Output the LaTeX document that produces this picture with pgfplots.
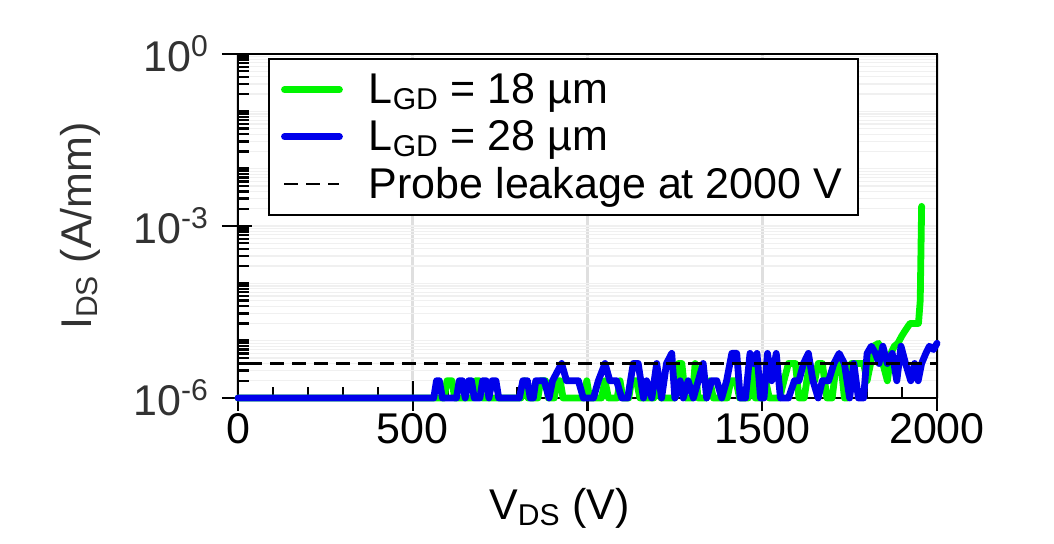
\documentclass[border=0pt]{standalone}
\usepackage{fontspec}
\setmainfont{Liberation Sans}
\usepackage{pgfplots}
\pgfplotsset{compat=1.18}
\definecolor{cgreen}{RGB}{0,245,0}
\definecolor{cblue}{RGB}{0,0,235}
\definecolor{dgray}{RGB}{50,50,50}
\begin{document}
\begin{tikzpicture}
\path[use as bounding box] (-119pt,-73pt) rectangle (408pt,199pt);
\begin{axis}[
  scale only axis,
  width=349.5pt, height=172pt,
  at={(0,0)}, anchor=south west,
  xmin=0, xmax=2000,
  ymode=log, ymin=1e-6, ymax=1,
  clip=false,
  font=\fontsize{21.5}{25}\selectfont,
  axis line style={line width=1.3pt},
  tick pos=left,
  tick align=inside,
  major tick length=15pt,
  minor tick length=5.5pt,
  every tick/.style={black, line width=1.2pt},
  major x tick style={yshift=-6.5pt},
  major y tick style={xshift=-8pt},
  xtick={0,500,1000,1500,2000},
  xticklabels={0,500,1000,1500,2000},
  minor xtick={100,200,300,400,600,700,800,900,1100,1200,1300,1400,1600,1700,1800,1900},
  ytick={1e-6,1e-3,1},
  yticklabels={10\textsuperscript{-6},10\textsuperscript{-3},10\textsuperscript{0}},
  minor ytick={2e-6,3e-6,4e-6,5e-6,6e-6,7e-6,8e-6,9e-6,1e-5,
               2e-5,3e-5,4e-5,5e-5,6e-5,7e-5,8e-5,9e-5,1e-4,
               2e-4,3e-4,4e-4,5e-4,6e-4,7e-4,8e-4,9e-4,
               2e-3,3e-3,4e-3,5e-3,6e-3,7e-3,8e-3,9e-3,1e-2,
               2e-2,3e-2,4e-2,5e-2,6e-2,7e-2,8e-2,9e-2,1e-1,
               2e-1,3e-1,4e-1,5e-1,6e-1,7e-1,8e-1,9e-1},
  xmajorgrids, ymajorgrids, yminorgrids,
  x grid style={gray!25, line width=1.5pt},
  y grid style={gray!12, line width=0.6pt},
  minor y grid style={gray!12, line width=0.6pt},
  xticklabel style={black, yshift=-4pt},
  yticklabel style={dgray, xshift=-11pt},
  xlabel={V\textsubscript{DS} (V)},
  ylabel={I\textsubscript{DS} (A/mm)},
  every axis x label/.style={at={(axis description cs:0.46,0)}, anchor=center, yshift=-55pt, black},
  every axis y label/.style={at={(axis description cs:0,0.5)}, anchor=center, rotate=90, yshift=79pt, dgray},
  legend cell align=left,
  legend style={at={(axis description cs:0.043,0.988)}, anchor=north west,
    draw=black, line width=1pt, fill=white,
    inner xsep=6pt, inner ysep=5pt, row sep=3pt, column sep=11pt,
    font=\fontsize{21.5}{25}\selectfont, text=black},
  legend image code/.code={\draw[#1] (2pt,0pt) -- (29.5pt,0pt);},
]
\addplot[cgreen, line width=3.4pt, line join=round, line cap=round] coordinates {
(0,1e-6) (590,1e-6) (598,2e-6) (612,2e-6) (620,1e-6) (672,1e-6) (680,2e-6) (690,2e-6) (698,1e-6)
(810,1e-6) (820,2e-6) (830,1e-6) (858,1e-6) (866,2e-6) (880,2e-6) (888,1e-6) (905,1e-6) (912,2e-6)
(922,2e-6) (930,1e-6) (990,1e-6) (998,2e-6) (1006,1e-6) (1040,1e-6) (1050,2e-6) (1060,1e-6)
(1085,1e-6) (1093,2e-6) (1101,1e-6) (1118,1e-6) (1126,2e-6) (1140,2e-6) (1150,1e-6) (1190,1e-6)
(1200,2e-6) (1210,1e-6) (1250,1e-6) (1260,4e-6) (1270,4e-6) (1280,1e-6) (1300,1e-6) (1308,4e-6)
(1316,1e-6) (1340,1e-6) (1350,2e-6) (1360,1e-6) (1400,1e-6) (1410,2e-6) (1425,2e-6) (1435,1e-6)
(1460,1e-6) (1470,4e-6) (1480,1e-6) (1500,1e-6) (1510,2e-6) (1520,1e-6) (1550,1e-6) (1562,2e-6)
(1575,4e-6) (1595,4e-6) (1605,1e-6) (1620,1e-6) (1635,4e-6) (1650,2e-6) (1660,4e-6) (1672,4e-6)
(1685,1e-6) (1700,1e-6) (1712,4e-6) (1725,4e-6) (1735,1e-6) (1745,1e-6) (1755,4e-6) (1790,4e-6)
(1800,2e-6) (1810,4e-6) (1818,8e-6) (1833,9e-6) (1845,4e-6) (1858,2e-6) (1868,6e-6) (1878,8e-6)
(1888,9e-6) (1899,1.2e-5) (1909,1.5e-5) (1923,2e-5) (1947,2e-5) (1952,5e-5) (1956,2.2e-3)
};
\addlegendentry{L\textsubscript{GD} = 18 µm}
\addplot[cblue, line width=3.4pt, line join=round, line cap=round] coordinates {
(0,1e-6) (560,1e-6) (568,2e-6) (576,2e-6) (585,1e-6) (625,1e-6) (633,2e-6) (642,2e-6) (650,1e-6)
(660,2e-6) (668,2e-6) (676,1e-6) (692,1e-6) (700,2e-6) (710,2e-6) (718,1e-6) (727,2e-6) (738,2e-6)
(746,1e-6) (805,1e-6) (815,2e-6) (828,2e-6) (836,1e-6) (845,1e-6) (852,2e-6) (876,2e-6) (890,1e-6)
(900,2e-6) (926,4e-6) (940,2e-6) (974,2e-6) (988,1e-6) (1017,1e-6) (1031,2e-6) (1050,4e-6)
(1064,2e-6) (1083,2e-6) (1098,1e-6) (1115,1e-6) (1131,4e-6) (1145,4e-6) (1160,1e-6) (1169,2e-6)
(1184,1e-6) (1198,4e-6) (1212,1e-6) (1226,4e-6) (1241,6e-6) (1250,1e-6) (1265,2e-6) (1274,1e-6)
(1288,2e-6) (1303,1e-6) (1317,2e-6) (1331,4e-6) (1341,1e-6) (1355,2e-6) (1370,2e-6) (1384,1e-6)
(1398,2e-6) (1413,6e-6) (1427,6e-6) (1437,1e-6) (1452,1e-6) (1465,6e-6) (1475,4e-6) (1485,6e-6)
(1495,1e-6) (1505,1e-6) (1515,6e-6) (1527,2e-6) (1540,6e-6) (1552,1e-6) (1575,1e-6) (1592,2e-6)
(1605,2e-6) (1618,4e-6) (1632,6e-6) (1645,2e-6) (1660,1e-6) (1672,2e-6) (1690,2e-6) (1705,4e-6)
(1720,6e-6) (1735,4e-6) (1750,1e-6) (1762,4e-6) (1775,1e-6) (1790,1e-6) (1800,6e-6) (1812,8e-6)
(1824,6e-6) (1834,4e-6) (1845,8e-6) (1858,4e-6) (1872,6e-6) (1885,2e-6) (1897,8e-6) (1910,4e-6)
(1925,2e-6) (1936,4e-6) (1946,2e-6) (1956,4e-6) (1968,6e-6) (1978,8e-6) (1990,7e-6) (2000,9e-6)
};
\addlegendentry{L\textsubscript{GD} = 28 µm}
\addplot[black, line width=1.2pt, dash pattern=on 7pt off 4pt] coordinates {(30,4e-6) (2000,4e-6)};
\addlegendentry{Probe leakage at 2000 V}
\end{axis}
\end{tikzpicture}
\end{document}
